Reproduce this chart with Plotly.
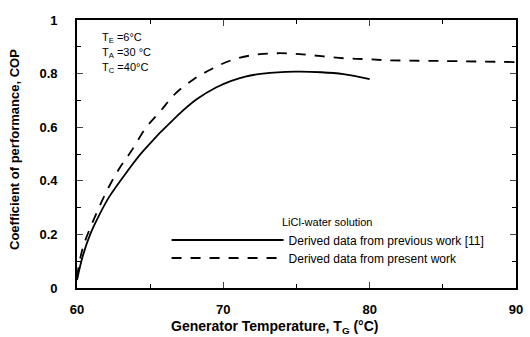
import plotly.graph_objects as go

T_prev = [60, 60.4, 60.9, 61.5, 62.2, 63.5, 64.5, 66.9, 68.2, 69.5, 70.5, 71.5, 72.7, 74.9, 76.7, 78.2, 80]
COP_prev = [0.03, 0.12, 0.20, 0.27, 0.34, 0.44, 0.51, 0.645, 0.705, 0.748, 0.772, 0.789, 0.80, 0.807, 0.805, 0.798, 0.779]

T_pres = [60, 60.4, 61.5, 62.3, 63, 63.7, 64.7, 65.7, 66.7, 68, 69.2, 70.4, 72, 73.7, 75.2, 76.7, 78.3, 79.7, 81.2, 85, 90]
COP_pres = [0.04, 0.15, 0.30, 0.39, 0.455, 0.51, 0.597, 0.66, 0.724, 0.78, 0.817, 0.847, 0.869, 0.876, 0.873, 0.865, 0.857, 0.854, 0.85, 0.847, 0.843]

x_ticks = [60, 70, 80, 90]
y_ticks = [0, 0.2, 0.4, 0.6, 0.8, 1]
y_labels = ["0", "0.2", "0.4", "0.6", "0.8", "1"]

FONT = "Liberation Sans, Arial, sans-serif"

fig = go.Figure()
fig.add_trace(go.Scatter(x=T_prev, y=COP_prev, mode="lines", line=dict(color="black", width=1.8, shape="spline"),
                         name="Derived data from previous work [11]", legend="legend"))
fig.add_trace(go.Scatter(x=T_pres, y=COP_pres, mode="lines", line=dict(color="black", width=1.8, dash="10px,9px", shape="spline"),
                         name="Derived data from present work", legend="legend2"))

leg_common = dict(x=(168 - 77) / 446, xanchor="left", yanchor="middle", bgcolor="rgba(0,0,0,0)",
                  itemwidth=112, font=dict(size=12, family=FONT), borderwidth=0)

fig.update_layout(
    width=530, height=337,
    margin=dict(l=77, r=7, t=20, b=49),
    paper_bgcolor="white", plot_bgcolor="white",
    font=dict(family=FONT, color="black"),
    showlegend=True,
    legend=dict(y=(288 - 240) / 268, **leg_common),
    legend2=dict(y=(288 - 258) / 268, **leg_common),
    xaxis=dict(range=[60, 90], tickvals=x_ticks, ticktext=["<b>%d</b>" % v for v in x_ticks],
               ticks="inside", ticklen=6, tickwidth=1.2, ticklabelstandoff=8,
               showline=True, linecolor="black", linewidth=1.8, mirror="ticks", showgrid=False, zeroline=False,
               minor=dict(dtick=5, ticks="inside", ticklen=4, tickcolor="black"),
               tickfont=dict(size=13, family=FONT)),
    yaxis=dict(range=[0, 1], tickvals=y_ticks, ticktext=["<b>%s</b>" % s for s in y_labels], ticks="inside",
               ticklen=6, tickwidth=1.2, ticklabelstandoff=15,
               showline=True, linecolor="black", linewidth=1.8, mirror="ticks", showgrid=False, zeroline=False,
               minor=dict(dtick=0.1, ticks="inside", ticklen=4, tickcolor="black"),
               tickfont=dict(size=13, family=FONT)),
)

fig.add_annotation(text="<b>Generator Temperature, T<sub>G</sub> (°C)</b>", xref="paper", yref="paper",
                   x=(278 - 77) / 446, y=-(327 - 288) / 268, showarrow=False, xanchor="center", yanchor="middle",
                   font=dict(size=14, family=FONT))
fig.add_annotation(text="<b>Coefficient of performance, COP</b>", xref="paper", yref="paper",
                   x=-(77 - 13) / 446, y=(288 - 150) / 268, showarrow=False, xanchor="center", yanchor="middle",
                   textangle=-90, font=dict(size=13, family=FONT))

for txt, yy in [("T<sub>E</sub> =6°C", 38), ("T<sub>A</sub> =30 °C", 53), ("T<sub>C</sub> =40°C", 68)]:
    fig.add_annotation(text=txt, xref="paper", yref="paper", x=(100 - 77) / 446, y=(288 - yy) / 268, showarrow=False,
                       xanchor="left", yanchor="middle", font=dict(size=11, family=FONT))
fig.add_annotation(text="LiCl-water solution", xref="paper", yref="paper", x=(283 - 77) / 446, y=(288 - 222) / 268,
                   showarrow=False, xanchor="left", yanchor="middle", font=dict(size=11, family=FONT))

fig.write_html("out.html")
